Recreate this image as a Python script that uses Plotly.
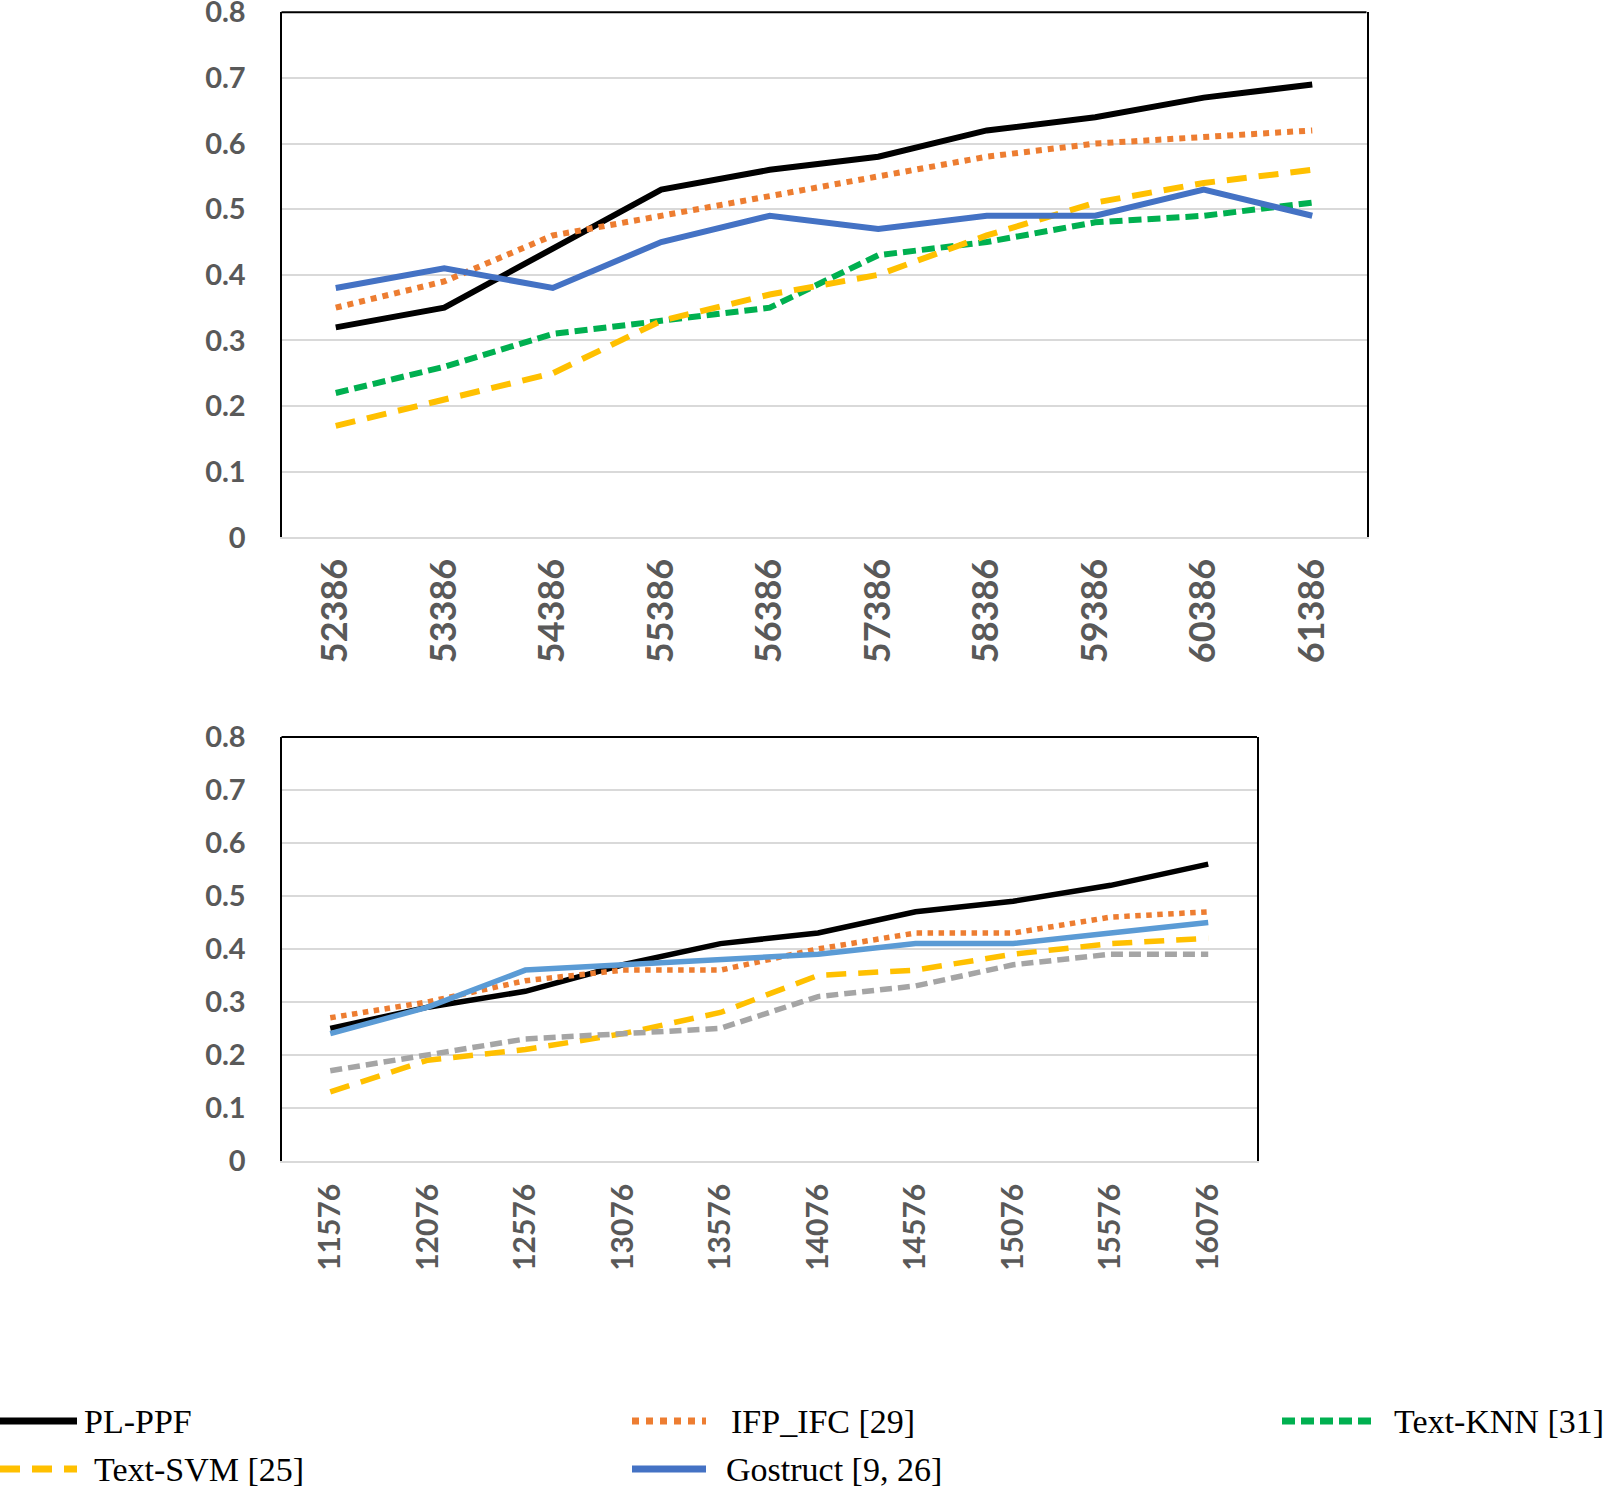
import plotly.graph_objects as go

# --- data ---
top_sizes = ["52386", "53386", "54386", "55386", "56386",
             "57386", "58386", "59386", "60386", "61386"]
bottom_sizes = ["11576", "12076", "12576", "13076", "13576",
                "14076", "14576", "15076", "15576", "16076"]

top_pl_ppf = [0.32, 0.35, 0.44, 0.53, 0.56, 0.58, 0.62, 0.64, 0.67, 0.69]
top_ifp_ifc = [0.35, 0.39, 0.46, 0.49, 0.52, 0.55, 0.58, 0.60, 0.61, 0.62]
top_text_knn = [0.22, 0.26, 0.31, 0.33, 0.35, 0.43, 0.45, 0.48, 0.49, 0.51]
top_text_svm = [0.17, 0.21, 0.25, 0.33, 0.37, 0.40, 0.46, 0.51, 0.54, 0.56]
top_gostruct = [0.38, 0.41, 0.38, 0.45, 0.49, 0.47, 0.49, 0.49, 0.53, 0.49]

bot_pl_ppf = [0.25, 0.29, 0.32, 0.37, 0.41, 0.43, 0.47, 0.49, 0.52, 0.56]
bot_ifp_ifc = [0.27, 0.30, 0.34, 0.36, 0.36, 0.40, 0.43, 0.43, 0.46, 0.47]
bot_gostruct = [0.24, 0.29, 0.36, 0.37, 0.38, 0.39, 0.41, 0.41, 0.43, 0.45]
bot_text_svm = [0.13, 0.19, 0.21, 0.24, 0.28, 0.35, 0.36, 0.39, 0.41, 0.42]
bot_text_knn = [0.17, 0.20, 0.23, 0.24, 0.25, 0.31, 0.33, 0.37, 0.39, 0.39]

y_ticks = [0, 0.1, 0.2, 0.3, 0.4, 0.5, 0.6, 0.7, 0.8]
y_labels = ["0", "0.1", "0.2", "0.3", "0.4", "0.5", "0.6", "0.7", "0.8"]

legend_names = ["PL-PPF", "IFP_IFC [29]", "Text-KNN [31]", "Text-SVM [25]", "Gostruct [9, 26]"]

W, H = 1605, 1488
TICK_GRAY = "#595959"
GRID = "#D9D9D9"


def px(x):
    return x / W


def py(y):
    return 1 - y / H


# styles: (color, dash)
top_styles = [("#000000", "solid"), ("#ED7D31", "dot"), ("#00B050", "13px,6px"),
              ("#FFC000", "20px,12px"), ("#4472C4", "solid")]
bot_styles = [("#000000", "solid"), ("#ED7D31", "dot"), ("#5B9BD5", "solid"),
              ("#FFC000", "20px,12px"), ("#A5A5A5", "12px,6px")]

fig = go.Figure()

top_series = [top_pl_ppf, top_ifp_ifc, top_text_knn, top_text_svm, top_gostruct]
for name, vals, (col, dash) in zip(legend_names, top_series, top_styles):
    fig.add_trace(go.Scatter(x=top_sizes, y=vals, name=name, mode="lines",
                             line=dict(color=col, width=6, dash=dash),
                             showlegend=False, xaxis="x", yaxis="y"))

bot_names = ["PL-PPF", "IFP_IFC [29]", "Gostruct [9, 26]", "Text-SVM [25]", "Text-KNN [31]"]
bot_series = [bot_pl_ppf, bot_ifp_ifc, bot_gostruct, bot_text_svm, bot_text_knn]
for name, vals, (col, dash) in zip(bot_names, bot_series, bot_styles):
    fig.add_trace(go.Scatter(x=bottom_sizes, y=vals, name=name, mode="lines",
                             line=dict(color=col, width=5.5, dash=dash),
                             showlegend=False, xaxis="x2", yaxis="y2"))

tick_font = dict(family="Lato, Carlito, sans-serif", size=29, color=TICK_GRAY, weight="bold")


def xaxis_cfg(domain, size, standoff):
    return dict(domain=domain, type="category", range=[-0.5, 9.5], tickangle=-90,
                tickfont=dict(tick_font, size=size), showgrid=False, showline=True,
                linecolor=GRID, linewidth=2, ticks="outside", ticklen=standoff,
                tickcolor="rgba(0,0,0,0)", zeroline=False, automargin=False)


def yaxis_cfg(domain, anchor):
    return dict(domain=domain, anchor=anchor, range=[0, 0.8], tickvals=y_ticks, ticktext=y_labels,
                tickfont=tick_font, showgrid=True, gridcolor=GRID, gridwidth=2,
                showline=True, linecolor="#000000", linewidth=2, mirror=True,
                ticks="outside", ticklen=28, tickcolor="rgba(0,0,0,0)", zeroline=False,
                automargin=False, ticklabeloverflow="allow")


top_x = [px(281.5), px(1366.5)]
top_y = [py(537.4), py(12.3)]
bot_x = [px(281.5), px(1257)]
bot_y = [py(1160.8), py(737)]

fig.update_layout(
    width=W, height=H, autosize=False,
    margin=dict(l=0, r=0, t=0, b=0),
    paper_bgcolor="white", plot_bgcolor="white",
    xaxis=dict(xaxis_cfg(top_x, 36, 5), anchor="y"),
    yaxis=yaxis_cfg(top_y, "x"),
    xaxis2=dict(xaxis_cfg(bot_x, 30, 9), anchor="y2"),
    yaxis2=yaxis_cfg(bot_y, "x2"),
    showlegend=False,
)

# top frame edges (Excel-style border, grey bottom axis)
for xd, yd in [(top_x, top_y), (bot_x, bot_y)]:
    fig.add_shape(type="line", xref="paper", yref="paper",
                  x0=xd[0], x1=xd[1], y0=yd[1], y1=yd[1],
                  line=dict(color="#000000", width=2))

# custom legend under the charts (long line samples like the original)
legend_pos = [  # (line x0, line x1, text x, row y) in page pixels
    (0, 77, 82, 1421),
    (632, 706, 729, 1421),
    (1282, 1372, 1392, 1421),
    (0, 77, 92, 1469),
    (632, 706, 724, 1469),
]
for name, (col, dash), (lx0, lx1, tx, ry) in zip(legend_names, top_styles, legend_pos):
    fig.add_shape(type="line", xref="paper", yref="paper",
                  x0=px(lx0), x1=px(lx1), y0=py(ry), y1=py(ry),
                  line=dict(color=col, width=7, dash=dash))
    fig.add_annotation(x=px(tx), y=py(ry), xref="paper", yref="paper",
                       text=name, showarrow=False, xanchor="left", yanchor="middle",
                       font=dict(family="Liberation Serif, Times New Roman, serif",
                                 size=34, color="#000000"))

# drop the default 8px body margin so the figure sits at the page corner
fig.write_html("out.html", config={"displayModeBar": False},
               post_script="document.body.style.margin='0';")
